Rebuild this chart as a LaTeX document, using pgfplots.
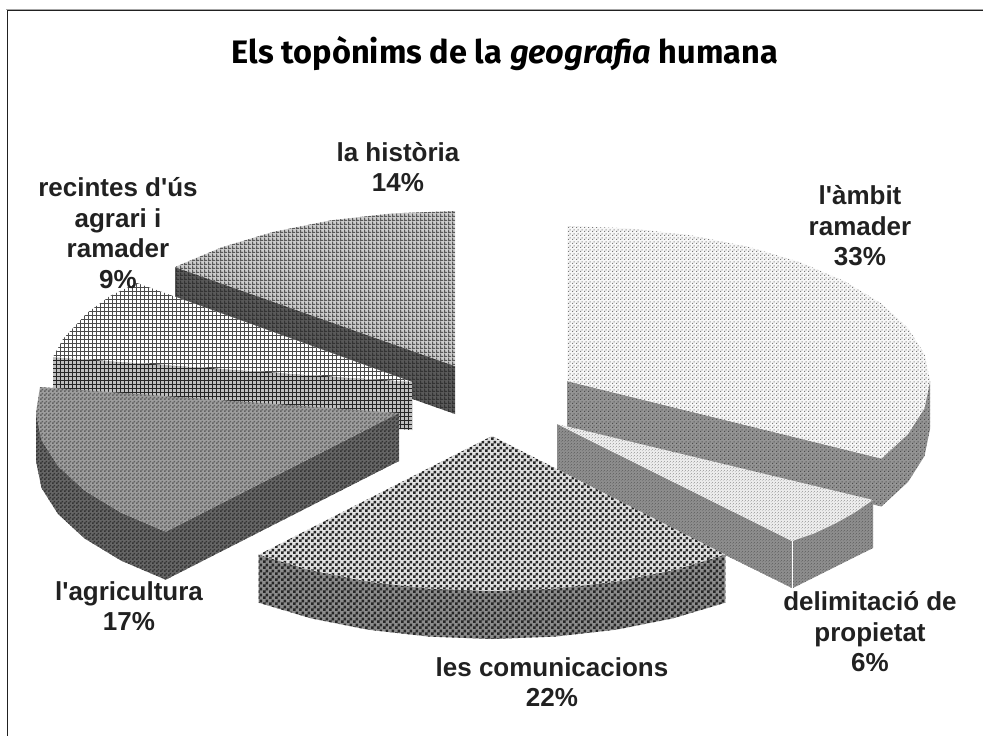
\documentclass[border=0pt]{standalone}
\usepackage{fontspec}
\setmainfont{Liberation Sans}[Ligatures=TeXOff]
\newfontfamily\titlefont{Fira Sans}
\usepackage{pgfplots}
\pgfplotsset{compat=1.18}
\usetikzlibrary{patterns}

% dots on a diagonal lattice
\pgfdeclarepatternformonly{dotsA}{\pgfqpoint{0pt}{0pt}}{\pgfqpoint{4pt}{4pt}}{\pgfqpoint{4pt}{4pt}}{
  \pgfpathrectangle{\pgfqpoint{0pt}{0pt}}{\pgfqpoint{1.3pt}{1.3pt}}
  \pgfpathrectangle{\pgfqpoint{2pt}{2pt}}{\pgfqpoint{1.3pt}{1.3pt}}
  \pgfusepath{fill}}
\pgfdeclarepatternformonly{dotsB}{\pgfqpoint{0pt}{0pt}}{\pgfqpoint{3pt}{3pt}}{\pgfqpoint{3pt}{3pt}}{
  \pgfpathrectangle{\pgfqpoint{0pt}{0pt}}{\pgfqpoint{0.9pt}{0.9pt}}
  \pgfpathrectangle{\pgfqpoint{1.5pt}{1.5pt}}{\pgfqpoint{0.9pt}{0.9pt}}
  \pgfusepath{fill}}
% checks
\pgfdeclarepatternformonly{checkA}{\pgfqpoint{0pt}{0pt}}{\pgfqpoint{5.6pt}{5.6pt}}{\pgfqpoint{5.6pt}{5.6pt}}{
  \pgfpathrectangle{\pgfqpoint{0pt}{0pt}}{\pgfqpoint{2.8pt}{2.8pt}}
  \pgfpathrectangle{\pgfqpoint{2.8pt}{2.8pt}}{\pgfqpoint{2.8pt}{2.8pt}}
  \pgfusepath{fill}}
\pgfdeclarepatternformonly{checkB}{\pgfqpoint{0pt}{0pt}}{\pgfqpoint{4pt}{4pt}}{\pgfqpoint{4pt}{4pt}}{
  \pgfpathrectangle{\pgfqpoint{0pt}{0pt}}{\pgfqpoint{2pt}{2pt}}
  \pgfpathrectangle{\pgfqpoint{2pt}{2pt}}{\pgfqpoint{2pt}{2pt}}
  \pgfusepath{fill}}
% grids
\pgfdeclarepatternformonly{gridA}{\pgfqpoint{0pt}{0pt}}{\pgfqpoint{4.4pt}{4.4pt}}{\pgfqpoint{4.4pt}{4.4pt}}{
  \pgfpathrectangle{\pgfqpoint{0pt}{0pt}}{\pgfqpoint{4.4pt}{1.1pt}}
  \pgfpathrectangle{\pgfqpoint{0pt}{0pt}}{\pgfqpoint{1.1pt}{4.4pt}}
  \pgfusepath{fill}}
\pgfdeclarepatternformonly{gridB}{\pgfqpoint{0pt}{0pt}}{\pgfqpoint{3.6pt}{3.6pt}}{\pgfqpoint{3.6pt}{3.6pt}}{
  \pgfpathrectangle{\pgfqpoint{0pt}{0pt}}{\pgfqpoint{3.6pt}{1.2pt}}
  \pgfpathrectangle{\pgfqpoint{0pt}{0pt}}{\pgfqpoint{1.2pt}{3.6pt}}
  \pgfusepath{fill}}

\pgfplotsset{
  face/.style n args={3}{draw=none, fill=black!#1, postaction={pattern=#2, pattern color=black!#3}}
}
\definecolor{ink}{gray}{0.13}

\begin{document}
\begin{tikzpicture}
\useasboundingbox (0,0) rectangle (983pt,736pt);
\begin{axis}[
  at={(0,0)}, anchor=south west,
  scale only axis, width=983pt, height=736pt,
  xmin=0, xmax=983, ymin=0, ymax=736, y dir=reverse,
  hide axis, clip=false]

% frame: only the top and left rules
\addplot[gray!70, line width=1pt] coordinates {(6,9) (983,9)};
\addplot[ink, line width=1.6pt] coordinates {(7.5,736) (7.5,10.5) (983,10.5)};

% la historia
\addplot[face={65}{gridB}{80}] coordinates {(175,267) (175,315) (455,414) (455,366)};
\addplot[face={20}{gridB}{65}] coordinates {(455,366) (175,267) (221.7,247.3) (273.5,231.8) (331,220.3) (392,213.4) (455,211)};

% recintes d'us agrari i ramader
\addplot[face={25}{gridA}{85}] coordinates {(53,357) (412,382) (412,430) (53,405)};
\addplot[face={0}{gridA}{70}] coordinates {(412,382) (137,283) (110,296) (87,313) (63,339) (53,357)};

% l'agricultura
\addplot[face={60}{checkB}{80}] coordinates {(36,413) (41.5,440) (58,466) (84.6,490.5) (121,512.6) (165.7,531.7) (399,413) (399,461) (165.7,579.7) (121,560.6) (84.6,538.5) (58,514) (41.5,488) (36,461)};
\addplot[face={38}{checkB}{62}] coordinates {(399,413) (40,387) (36,413) (41.5,440) (58,466) (84.6,490.5) (121,512.6) (165.7,531.7)};

% l'ambit ramader
\addplot[face={42}{dotsA}{70}] coordinates {(567,381) (881.4,458.5) (908,434) (924.5,408) (930,381) (930,429) (924.5,456) (908,482) (881.4,506.5) (567,429)};
\addplot[face={3}{dotsA}{52}] coordinates {(567,381) (567,226) (630,228.4) (691,235.3) (748.5,246.8) (800.3,262.3) (845,281.4) (881.4,303.5) (908,328) (924.5,354) (930,381) (924.5,408) (908,434) (881.4,458.5)};

% delimitacio de propietat
\addplot[face={45}{dotsB}{60}] coordinates {(557,424) (792,541) (792,588) (557,472)};
\addplot[face={45}{dotsB}{60}] coordinates {(792.8,541) (873,500) (873,548) (792.8,588)};
\addplot[white, line width=0.8pt] coordinates {(792.4,541) (792.4,588)};
\addplot[face={8}{dotsB}{35}] coordinates {(557,424) (873,500) (854,513) (835,523.6) (813.7,533.6) (792,541)};

% les comunicacions
\addplot[face={45}{checkA}{85}] coordinates {(258.7,554.7) (310.5,570.2) (368,581.7) (429,588.6) (492,591) (555,588.6) (616,581.7) (673.5,570.2) (725.3,554.7) (725.3,602.7) (673.5,618.2) (616,629.7) (555,636.6) (492,639) (429,636.6) (368,629.7) (310.5,618.2) (258.7,602.7)};
\addplot[face={12}{checkA}{85}] coordinates {(492,436) (725.3,554.7) (673.5,570.2) (616,581.7) (555,588.6) (492,591) (429,588.6) (368,581.7) (310.5,570.2) (258.7,554.7)};

% text
\node[font=\titlefont\bfseries\fontsize{32.5}{38}\selectfont, text=black] at (axis cs:505,54) {Els topònims de la \textit{geografia} humana};
\begin{scope}[every node/.style={font=\bfseries\fontsize{26}{30.5}\selectfont, align=center, text=ink, inner sep=0pt}]
\node at (axis cs:398,167) {la història\\14\%};
\node at (axis cs:118,233) {recintes d'ús\\agrari i\\ramader\\9\%};
\node at (axis cs:860,226) {l'àmbit\\ramader\\33\%};
\node at (axis cs:870,632) {delimitació de\\propietat\\6\%};
\node at (axis cs:552,682) {les comunicacions\\22\%};
\node at (axis cs:129,606) {l'agricultura\\17\%};
\end{scope}
\end{axis}
\end{tikzpicture}
\end{document}
